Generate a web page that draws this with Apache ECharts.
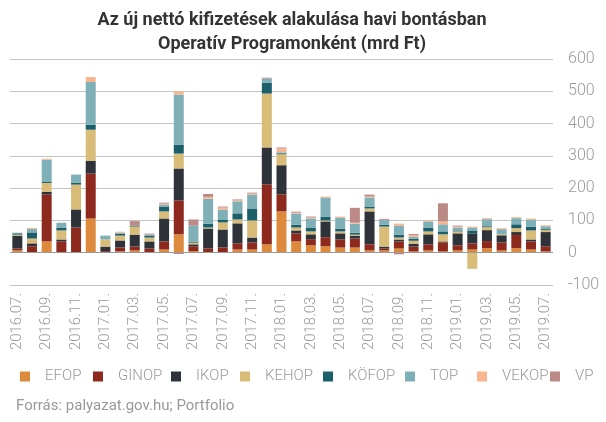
<!DOCTYPE html>
<html><head><meta charset="utf-8">
<script src="https://cdn.jsdelivr.net/npm/echarts@6/dist/echarts.min.js"></script>
<style>html,body{margin:0;padding:0;background:#fff}#c{width:606px;height:422px}</style>
</head><body><div id="c"></div>
<script>
const months = ["2016.07.","2016.08.","2016.09.","2016.10.","2016.11.","2016.12.","2017.01.","2017.02.","2017.03.","2017.04.","2017.05.","2017.06.","2017.07.","2017.08.","2017.09.","2017.10.","2017.11.","2017.12.","2018.01.","2018.02.","2018.03.","2018.04.","2018.05.","2018.06.","2018.07.","2018.08.","2018.09.","2018.10.","2018.11.","2018.12.","2019.01.","2019.02.","2019.03.","2019.04.","2019.05.","2019.06.","2019.07."];
const EFOP  = [7,0,35,0,0,106,0,4,7,0,10,57,5,0,0,10,10,26,128,35,23,20,16,16,7,7,13,4,7,4,7,10,14,7,14,10,4];
const GINOP = [6,20,145,35,78,139,5,12,12,13,25,105,15,13,16,19,22,186,53,25,19,28,25,28,19,6,22,15,19,28,16,19,22,25,41,25,16];
const IKOP  = [40,9,9,6,56,40,14,22,37,22,71,99,6,62,56,62,15,114,90,9,15,49,19,9,102,6,6,9,31,3,37,31,34,22,9,6,44];
const KEHOP = [3,15,27,28,77,96,22,15,25,12,22,46,5,3,22,12,53,167,34,9,9,3,6,3,9,62,6,9,9,22,6,-50,9,3,12,28,6];
const KOFOP = [4,19,3,9,6,15,0,6,3,6,15,28,3,12,9,19,37,34,3,9,12,12,9,6,6,6,9,6,12,9,3,9,3,0,12,12,3];
const TOP   = [2,11,69,15,25,133,12,3,0,3,6,155,50,77,31,37,43,12,3,34,28,59,34,28,28,15,28,6,19,22,9,9,22,16,19,22,9];
const VEKOP = [0,3,3,0,0,15,0,3,0,0,3,10,0,6,6,3,3,0,12,3,3,3,3,3,3,0,6,6,3,9,3,3,3,3,3,3,3];
const VP    = [0,0,0,0,0,0,0,0,14,3,3,-4,19,9,3,3,3,3,3,3,3,0,0,46,6,3,-5,3,0,56,3,0,0,0,0,0,0];
const yTicks = [-100,0,100,200,300,400,500,600];

const names = ["EFOP","GINOP","IKOP","KEHOP","KÖFOP","TOP","VEKOP","VP"];
const datas = [EFOP,GINOP,IKOP,KEHOP,KOFOP,TOP,VEKOP,VP];
const colors = ["#de8a3c","#8e2a1d","#2e333a","#d9bc78","#1b5f6a","#7fb0b8","#f7b68e","#bc8a86"];
const legendLeft = [20,93,171,240,323,405,477,550];

const chart = echarts.init(document.getElementById('c'), null, {renderer:'canvas'});
const series = names.map((n,i)=>({
  name:n, type:'bar', stack:'all', data:datas[i], barWidth:10,
  itemStyle:{color:colors[i]}, emphasis:{disabled:true}
}));
series[0].markLine = {silent:true, symbol:'none', label:{show:false}, lineStyle:{color:'#999', type:'solid', width:1}, data:[{yAxis:0}]};
const legends = names.map((n,i)=>({
  data:[n], left:legendLeft[i], top:369, itemWidth:10, itemHeight:10, padding:0,
  icon:'rect', selectedMode:false,
  textStyle:{color:'#999', fontSize:15, fontWeight:300, padding:[0,0,0,10], fontFamily:'Roboto'}
}));
chart.setOption({
  animation:false,
  color:colors,
  textStyle:{fontFamily:'Roboto'},
  graphic:[
    {type:'text', x:292, y:11, style:{text:'Az új nettó kifizetések alakulása havi bontásban', font:'bold 18px Roboto', fill:'#333', align:'center'}},
    {type:'text', x:292, y:35, style:{text:'Operatív Programonként (mrd Ft)', font:'bold 18px Roboto', fill:'#333', align:'center'}},
    {type:'text', x:16, y:399, style:{text:'Forrás: palyazat.gov.hu; Portfolio', font:'15px Roboto', fill:'#999'}}
  ],
  legend:legends,
  grid:{left:10, right:53, top:59, bottom:137},
  xAxis:{
    type:'category', data:months,
    axisLine:{show:false}, axisTick:{show:false},
    axisLabel:{rotate:90, interval:1, color:'#999', fontSize:15, fontWeight:300, margin:8, fontFamily:'Roboto'}
  },
  yAxis:{
    type:'value', position:'right', min:-100, max:600, interval:100,
    axisLine:{show:false}, axisTick:{show:false},
    axisLabel:{color:'#999', fontSize:16, fontWeight:300, margin:15, align:'left', fontFamily:'Roboto'},
    splitLine:{lineStyle:{color:'#c4c4c4', width:1}}
  },
  series:series
});
</script></body></html>
